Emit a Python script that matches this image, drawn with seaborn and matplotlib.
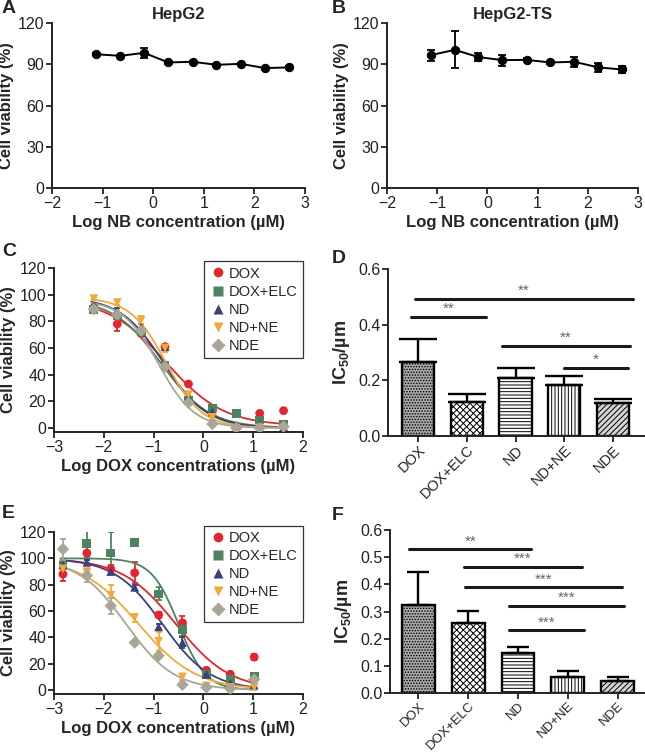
import numpy as np
import pandas as pd
import matplotlib
matplotlib.use("Agg")
import matplotlib.pyplot as plt
import seaborn as sns

sns.set_theme(style="ticks")
plt.rcParams['font.family'] = ['Liberation Sans', 'DejaVu Sans']
plt.rcParams['mathtext.fontset'] = 'custom'
plt.rcParams['mathtext.bf'] = 'Liberation Sans:bold'
plt.rcParams['hatch.linewidth'] = 0.7

# ---------------- dados ----------------
# A / B: viabilidade com NB
nb_log = [-1.13, -0.65, -0.18, 0.30, 0.78, 1.25, 1.73, 2.21, 2.68]
hepg2_via = [97.3, 96.1, 98.3, 91.3, 91.8, 89.6, 90.3, 87.2, 87.7]
hepg2_err = [0.8, 0.8, 3.6, 0.8, 0.8, 0.8, 0.8, 0.8, 0.8]
hepg2ts_via = [96.6, 100.5, 95.2, 93.0, 93.2, 91.3, 91.8, 87.7, 86.2]
hepg2ts_err = [4.0, 13.5, 3.0, 4.0, 1.0, 1.0, 3.5, 3.5, 2.5]

grupos = ['DOX', 'DOX+ELC', 'ND', 'ND+NE', 'NDE']
cores = ['#e3262e', '#4f8260', '#3b3f7a', '#f2a93b', '#aaa596']
marcadores = ['o', 's', '^', 'v', 'D']

# C: HepG2
c_log = [-2.20, -1.73, -1.25, -0.77, -0.30, 0.18, 0.66, 1.13, 1.61]
c_dox = [90, 78, 71, 61, 33, 13, 11, 11, 13]
c_elc = [89, 84, 72, 47, 21, 15, 11, 6, 3]
c_nd = [92, 88, 76, 61, 23, 12, 2, 3, 1]
c_ndne = [97, 94, 81, 60, 25, 8, 0, 0, 0]
c_nde = [89, 85, 73, 46, 19, 3, 0, 0, 1]
c_dox_err = [2, 5, 2, 2, 1, 1, 1, 1, 1]
c_elc_err = [2, 2, 2, 2, 1, 1, 1, 1, 1]
c_nd_err = [1, 2, 2, 2, 1, 1, 1, 1, 1]
c_ndne_err = [1, 2, 3, 3, 2, 2, 1, 1, 1]
c_nde_err = [2, 2, 2, 2, 2, 1, 1, 1, 1]
# parametros do ajuste (4PL)
c_top = [97, 97, 98, 98, 96]
c_bottom = [1.5, 0, 0, 0, 0]
c_logic50 = [-0.75, -0.85, -0.80, -0.75, -0.90]
c_hill = [0.75, 0.9, 1.0, 1.2, 1.2]

# E: HepG2-TS
e_log = [-2.82, -2.34, -1.86, -1.38, -0.90, -0.42, 0.06, 0.54, 1.02]
e_dox = [88, 104, 92, 89, 57, 51, 15, 12, 25]
e_elc = [95, 111, 104, 112, 73, 46, 12, 8, 10]
e_nd = [95, 97, 90, 78, 48, 36, 12, 5, 4]
e_ndne = [92, 89, 72, 55, 37, 10, 3, 2, 2]
e_nde = [107, 87, 64, 36, 26, 4, 2, 1, 8]
e_dox_err = [5, 5, 3, 8, 2, 5, 1, 1, 2]
e_elc_err = [3, 10, 16, 3, 5, 5, 1, 1, 1]
e_nd_err = [2, 2, 2, 2, 2, 4, 1, 1, 1]
e_ndne_err = [5, 4, 8, 3, 7, 2, 1, 1, 1]
e_nde_err = [8, 5, 6, 2, 2, 1, 1, 1, 1]
e_top = [100, 100, 100, 100, 100]
e_bottom = [0, 0, 0, 0, 0]
e_logic50 = [-0.55, -0.50, -0.82, -1.30, -1.55]
e_hill = [0.8, 1.6, 0.9, 0.75, 0.9]

# D / F: IC50
d_ic50 = [0.265, 0.121, 0.207, 0.183, 0.119]
d_err = [0.083, 0.030, 0.039, 0.033, 0.014]
f_ic50 = [0.324, 0.257, 0.149, 0.059, 0.046]
f_err = [0.121, 0.044, 0.021, 0.023, 0.013]
# significancia: (inicio, fim, altura, texto)
d_sig = [(-0.07, 4.42, 0.494, '**'), (-0.14, 1.39, 0.429, '**'),
         (1.73, 4.35, 0.325, '**'), (2.99, 4.32, 0.246, '*')]
f_sig = [(-0.18, 2.27, 0.530, '**'), (0.91, 3.28, 0.465, '***'),
         (0.93, 4.08, 0.389, '***'), (1.82, 4.13, 0.321, '***'),
         (1.82, 3.32, 0.232, '***')]

bar_face = ['#a9a9a9', 'white', 'white', 'white', '#d4d4d4']
bar_hatch = ['......', 'xxxxx', '-----', '|||||', '//////']

W, H = 645, 756
TICK = 11.5
LAB = 12


def rect(l, t, r, b):
    return [l / W, 1 - b / H, (r - l) / W, (b - t) / H]


def estilo(ax):
    sns.despine(ax=ax)
    for s in ['left', 'bottom']:
        ax.spines[s].set_linewidth(1.4)
        ax.spines[s].set_color('#222222')
    ax.tick_params(direction='out', length=4, width=1.3, labelsize=TICK,
                   colors='#222222', pad=1.5)


def four_pl(x, top, bottom, logic50, hill):
    return bottom + (top - bottom) / (1 + 10 ** ((x - logic50) * hill))


fig = plt.figure(figsize=(6.45, 7.56), dpi=100)

# ---------------- A e B ----------------
for l, r, via, err, titulo, letra, lx in [
        (52, 305, hepg2_via, hepg2_err, 'HepG2', 'A', 2),
        (387, 638, hepg2ts_via, hepg2ts_err, 'HepG2-TS', 'B', 332)]:
    ax = fig.add_axes(rect(l, 23, r, 188))
    sns.lineplot(x=nb_log, y=via, ax=ax, color='black', marker='o',
                 markersize=6, markeredgecolor='black', linewidth=1.4)
    ax.errorbar(nb_log, via, yerr=err, fmt='none', ecolor='black',
                elinewidth=1.3, capsize=3, capthick=1.3)
    ax.set_xlim(-2, 3)
    ax.set_ylim(0, 120)
    ax.set_yticks([0, 30, 60, 90, 120])
    ax.set_xticks([-2, -1, 0, 1, 2, 3])
    ax.set_xticklabels(['\u22122', '\u22121', '0', '1', '2', '3'])
    estilo(ax)
    ax.set_xlabel('Log NB concentration (\u00b5M)', fontsize=LAB,
                  fontweight='bold', labelpad=3)
    ax.set_ylabel('Cell viability (%)', fontsize=LAB, fontweight='bold',
                  labelpad=3)
    ax.set_title(titulo, fontsize=12, fontweight='bold', pad=3)
    fig.text(lx / W, 1 - 0 / H, letra, fontsize=14, fontweight='bold',
             va='top', ha='left')

# ---------------- C e E ----------------
def painel_curvas(ax, xs, series, erros, tops, bottoms, logs, hills):
    linhas = []
    for g, ys in zip(grupos, series):
        for xv, yv in zip(xs, ys):
            linhas.append({'x': xv, 'y': yv, 'grupo': g})
    df = pd.DataFrame(linhas)
    xfit = np.linspace(min(xs) - 0.05, max(xs) + 0.05, 200)
    for i, g in enumerate(grupos):
        yfit = four_pl(xfit, tops[i], bottoms[i], logs[i], hills[i])
        sns.lineplot(x=xfit, y=yfit, ax=ax, color=cores[i], linewidth=1.3)
        ax.errorbar(xs, series[i], yerr=erros[i], fmt='none',
                    ecolor=cores[i], elinewidth=1.3, capsize=2.5,
                    capthick=1.3)
    sns.scatterplot(data=df, x='x', y='y', hue='grupo', style='grupo',
                    palette=dict(zip(grupos, cores)),
                    markers=dict(zip(grupos, marcadores)), s=40,
                    edgecolor='none', ax=ax, zorder=5)
    ax.set_xlim(-3, 2)
    ax.set_ylim(-3, 120)
    ax.set_yticks(range(0, 121, 20))
    ax.set_xticks([-3, -2, -1, 0, 1, 2])
    ax.set_xticklabels(['\u22123', '\u22122', '\u22121', '0', '1', '2'])
    ax.spines['left'].set_bounds(-3, 120)
    estilo(ax)
    ax.set_xlabel('Log DOX concentrations (\u00b5M)', fontsize=LAB,
                  fontweight='bold', labelpad=3)
    ax.set_ylabel('Cell viability (%)', fontsize=LAB, fontweight='bold',
                  labelpad=3)
    leg = ax.legend(loc='upper right', fontsize=10.5, frameon=True,
                    fancybox=False, edgecolor='#333333', framealpha=1,
                    borderpad=0.35, labelspacing=0.28, handletextpad=0.1,
                    handlelength=1.3, markerscale=1.1,
                    bbox_to_anchor=(1.0, 1.04), borderaxespad=0)
    leg.get_frame().set_linewidth(0.9)


ax = fig.add_axes(rect(54, 268, 303, 432))
painel_curvas(ax, c_log, [c_dox, c_elc, c_nd, c_ndne, c_nde],
              [c_dox_err, c_elc_err, c_nd_err, c_ndne_err, c_nde_err],
              c_top, c_bottom, c_logic50, c_hill)
fig.text(2 / W, 1 - 243 / H, 'C', fontsize=14, fontweight='bold', va='top')

ax = fig.add_axes(rect(54, 532, 303, 694))
painel_curvas(ax, e_log, [e_dox, e_elc, e_nd, e_ndne, e_nde],
              [e_dox_err, e_elc_err, e_nd_err, e_ndne_err, e_nde_err],
              e_top, e_bottom, e_logic50, e_hill)
fig.text(2 / W, 1 - 505 / H, 'E', fontsize=14, fontweight='bold', va='top')

# ---------------- D e F ----------------
def painel_barras(ax, vals, errs, sig, xlim, ymax, yticks, capsize, xfs):
    df = pd.DataFrame({'grupo': grupos, 'ic50': vals})
    sns.barplot(data=df, x='grupo', y='ic50', hue='grupo',
                palette=dict(zip(grupos, bar_face)), legend=False,
                width=0.66, edgecolor='black', linewidth=1.7, ax=ax)
    for p, h in zip(ax.patches, bar_hatch):
        p.set_hatch(h)
    ax.errorbar(range(len(vals)), vals,
                yerr=[np.zeros(len(vals)), errs], fmt='none',
                ecolor='black', elinewidth=1.7, capsize=capsize,
                capthick=1.7)
    for x0, x1, y, t in sig:
        ax.plot([x0, x1], [y, y], color='#1a1a1a', linewidth=2.2)
        ax.text((x0 + x1) / 2, y + 0.002, t, ha='center', va='bottom',
                fontsize=11, color='#666666')
    ax.set_xlim(*xlim)
    ax.set_ylim(0, ymax)
    ax.set_yticks(yticks)
    ax.set_yticklabels([f'{v:.1f}' for v in yticks])
    estilo(ax)
    ax.set_xlabel('')
    ax.set_ylabel('IC$_{\\mathbf{50}}$/\u00b5m', fontsize=13,
                  fontweight='bold', labelpad=4)
    ax.set_xticks(range(len(grupos)))
    ax.set_xticklabels(grupos, rotation=45, ha='right',
                       rotation_mode='anchor', fontsize=xfs)
    ax.tick_params(axis='x', pad=1)


ax = fig.add_axes(rect(388, 269, 645, 436))
painel_barras(ax, d_ic50, d_err, d_sig, (-0.62, 4.66), 0.6,
              [0.0, 0.2, 0.4, 0.6], 14, 10.5)
fig.text(332 / W, 1 - 250 / H, 'D', fontsize=14, fontweight='bold', va='top')

ax = fig.add_axes(rect(390, 530, 645, 693))
painel_barras(ax, f_ic50, f_err, f_sig, (-0.57, 4.55), 0.6,
              [0.0, 0.1, 0.2, 0.3, 0.4, 0.5, 0.6], 8, 9.5)
fig.text(332 / W, 1 - 507 / H, 'F', fontsize=14, fontweight='bold', va='top')

fig.savefig('out.png', dpi=100)
